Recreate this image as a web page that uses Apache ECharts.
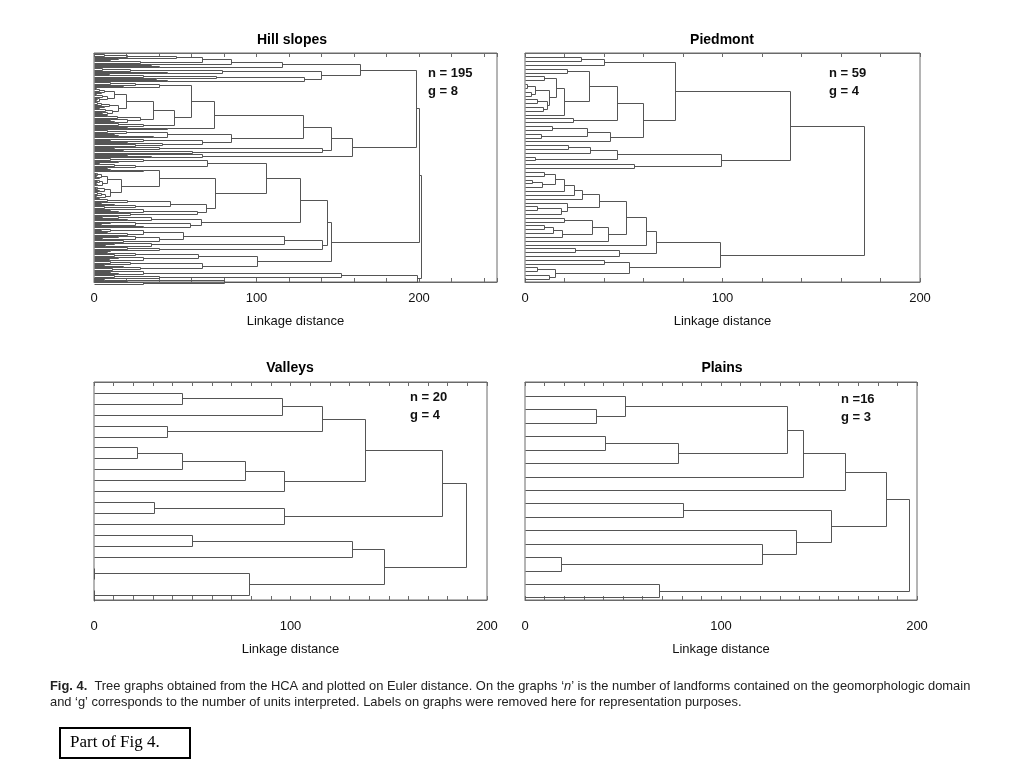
<!DOCTYPE html>
<html><head><meta charset="utf-8">
<script src="https://cdn.jsdelivr.net/npm/echarts/dist/echarts.min.js"></script>
<style>html,body{margin:0;padding:0;background:#fff}#c{width:1024px;height:768px}</style>
</head><body><div id="c"></div>
<script>
var panelTitles = ['Hill slopes', 'Piedmont', 'Valleys', 'Plains'];
var panelN = ['n = 195', 'n = 59', 'n = 20', 'n =16'];
var panelG = ['g = 8', 'g = 4', 'g = 4', 'g = 3'];
var axisMax = [248, 200, 200, 200];
var tickStep = [20, 20, 10, 10];
var tickLabels = [0, 100, 200];
var axisName = 'Linkage distance';
</script>
<script>
// Trees: node = [upperChild, lowerChild, linkageDistance]; 0 = a leaf (leaves in display order, top to bottom)
var valleysTree = [
  [
    [[[[0, 0, 44.6], 0, 95.8], [0, 0, 37.3], 116.2], [[[[0, 0, 21.7], 0, 44.6], 0, 76.8], 0, 96.9], 138.1],
    [[0, 0, 30.5], 0, 96.9],
    177.3
  ],
  [[[0, 0, 49.7], 0, 131.5], [[0, 0, 0], [0, 0, 0], 79.0], 147.4],
  189.3
];
var plainsTree = [
  [
    [[[[0, [0, 0, 36.0], 50.8], [[0, 0, 40.6], 0, 78.3], 133.7], 0, 141.6], 0, 163.3],
    [[0, 0, 80.7], [0, [0, [0, 0, 18.6], 121.0], 138.2], 156.0],
    184.3
  ],
  [0, 0, 68.5],
  196.0
];
</script>
<script>
var pdT1 = [[0, 0, 28.6], 0, 39.8];
var pdTC = [[[0, 0, 1], [0, 0, 3], 5], [[0, 0, 6], [0, 0, 9], 11], 12];
var pdX = [[0, 0, 21.5], [[[0, 0, 9.6], pdTC, 15.8], 0, 19.5], 32.2];
var pdI = [pdX, [0, 0, 24.2], 46.5];
var pdW = [[[0, 0, 13.5], [0, 0, 8], 31.3], 0, 43.2];
var pdC = [pdT1, [pdI, pdW, 59.7], 76.1];
var pdQ = [[[[0, 0, 22], 0, 33], [0, 0, 5], 46.5], [0, 0, 55], 99];
var piedmontUpper = [pdC, pdQ, 134.2];
var pdB185 = [[[[[0, 0, 9.5], [[0, 0, 3.4], 0, 8.6], 15], 0, 19.5], 0, 25], 0, 28.8];
var pdB238 = [pdB185, [0, [[0, 0, 6], 0, 18], 21.2], 37.7];
var pdB262 = [[[0, 0, 19.5], [[[0, 0, 9.5], 0, 14], 0, 18.6], 34], 0, 41.8];
var pdB408 = [[[pdB238, pdB262, 51.3], 0, 61.4], [[0, 0, 25.4], 0, 47.4], 66.5];
var pdS = [[0, 0, 40], [[0, 0, 6], [0, 0, 12], 15], 52.7];
var piedmontLower = [pdB408, pdS, 98.5];
var piedmontTree = [piedmontUpper, piedmontLower, 171.4];
</script>
<script>
var hillATop = [[[[[[0, 0, 6], 0, 20], [0, 0, 15], 50.6], [[0, 0, 10], 0, 28], 66.5], [0, 0, 35], 84], [0, 0, 40], 115.8];
var hillABot = [[[[0, 0, 5], 0, 22], [0, 0, 45], 78.8], [[[[0, 0, 9], 0, 30], [0, 0, 38], 75.3], [0, 0, 45], 129.2], 139.5];
var hillA = [hillATop, hillABot, 163.8];
var hillBCcore = [
  [[[[0, 0, 1], 0, 3], [0, 0, 4], 6], [[[0, 0, 1], 0, 5], [[0, 0, 2], [0, 0, 1], 3], 8], 12],
  [[[[0, 0, 2], 0, 4], [0, 0, 6], 9], [[[0, 0, 3], 0, 7], [[0, 0, 5], 0, 8], 11], 15],
  19.75
];
var hillBCupper = [
  [[[0, 0, 10], 0, 25], [0, 0, 18], 40],
  [[hillBCcore, [[[0, 0, 8], 0, 14], [[0, 0, 10], [0, 0, 12], 20], 28], 36.6], [[0, 0, 15], 0, 30], 49],
  59.9
];
var hillC1 = [[[[0, 0, 8], [0, 0, 12], 19.75], [[0, 0, 15], 0, 36.6], 45], [[[0, 0, 10], 0, 30], [[0, 0, 20], [0, 0, 25], 42], 66.5], 84];
var hillBC = [
  [[[hillBCupper, [[0, 0, 20], 0, 45], 73.7], hillC1, 128.8],
   [[[0, 0, 12], 0, 40], [[0, 0, 18], 0, 60], 140.5], 145.7],
  [[0, 0, 20], [0, 0, 35], 66.5],
  159
];
var hillTiny = [
  [[[[0, 0, 1], 0, 2], [[0, 0, 1], 0, 3], 4], [[[0, 0, 2], 0, 3], [[0, 0, 1], 0, 2], 5], 8],
  [[[[0, 0, 1], 0, 2], [0, 0, 3], 6], [[[0, 0, 2], 0, 4], [[0, 0, 1], 0, 3], 7], 10],
  16.5
];
var hillDTop = [[[0, 0, 10], [0, 0, 15], 30], [[[0, 0, 3], 0, 12], [0, 0, 8], 25], 69.5];
var hillDMidB = [[[[0, 0, 8], [0, 0, 4], 20], [[0, 0, 12], [0, 0, 6], 25], 46.5], [[[0, 0, 10], [0, 0, 15], 30], [0, 0, 22], 63.4], 69];
var hillDLow = [[[[0, 0, 5], 0, 15], [0, 0, 20], 35], [[[0, 0, 10], [0, 0, 4], 25], [0, 0, 30], 58.8], 66];
var hillD = [[hillDTop, [[[[0, 0, 10], 0, 30], hillTiny, 40], hillDMidB, 74.7], 105.6], hillDLow, 126.7];
var hillE = [
  [[[[[0, 0, 4], 0, 10], [[0, 0, 8], 0, 20], 30], [[[0, 0, 15], [0, 0, 5], 25], [0, 0, 18], 40], 55], [[0, 0, 12], [0, 0, 7], 35], 116.7],
  [[0, 0, 20], [0, 0, 10], 40],
  140.5
];
var hillF1 = [
  [[[0, 0, 8], [0, 0, 12], 25], [[0, 0, 15], [0, 0, 9], 30], 63.9],
  [[[0, 0, 10], [0, 0, 6], 22], [[0, 0, 18], [0, 0, 11], 28], 66.5],
  100
];
var hillF2 = [
  [[[0, 0, 10], [0, 0, 15], 30], [[0, 0, 12], 0, 40], 151.9],
  [[[0, 0, 6], 0, 20], [0, 0, 30], 80],
  199
];
var hillTree = [[[hillA, hillBC, 198], [[hillD, hillE, 143.6], hillF1, 146], 200], hillF2, 201.5];
</script>
<script>
var trees = [hillTree, piedmontTree, valleysTree, plainsTree];
var yRange = [[-1.2, 194.6], [-1.13, 58.8], [-0.98, 18.93], [-1.04, 15.19]];
var grids = [
  {left: 94, top: 53, width: 403, height: 229},
  {left: 525, top: 53, width: 395, height: 229},
  {left: 94, top: 382, width: 393, height: 218},
  {left: 525, top: 382, width: 392, height: 218}
];
var FONT = "'Liberation Sans', Arial, sans-serif";
var AX = '#6a6a6a';

function buildSegments(tree) {
  var leafIdx = 0;
  var segs = [];
  function walk(node) {
    if (node === 0) { var r = {pos: leafIdx, h: 0}; leafIdx += 1; return r; }
    var a = walk(node[0]);
    var b = walk(node[1]);
    segs.push([a.h, a.pos, node[2], b.pos, b.h]);
    return {pos: (a.pos + b.pos) / 2, h: node[2]};
  }
  walk(tree);
  return segs;
}

function fmtLabel(v) { return tickLabels.indexOf(v) >= 0 ? String(v) : ''; }

function renderSeg(params, api) {
  function c(x, y) {
    var p = api.coord([x, y]);
    return [Math.round(p[0]) + 0.5, Math.round(p[1]) + 0.5];
  }
  var ha = api.value(0), ya = api.value(1), h = api.value(2), yb = api.value(3), hb = api.value(4);
  return {type: 'polyline', shape: {points: [c(ha, ya), c(h, ya), c(h, yb), c(hb, yb)]},
    style: {fill: null, stroke: '#555555', lineWidth: 1}};
}

var chart = echarts.init(document.getElementById('c'), null, {renderer: 'canvas'});
var xAxes = [], yAxes = [], series = [], gridOpts = [];
var labelMargin = [10, 10, 20, 20];
var nameGap = [33, 33, 43, 43];
for (var i = 0; i < 4; i++) {
  var g = grids[i];
  gridOpts.push({show: true, borderColor: AX, borderWidth: 1, left: g.left, top: g.top, width: g.width, height: g.height});
  xAxes.push({
    gridIndex: i, type: 'value', position: 'bottom', min: 0, max: axisMax[i], interval: tickStep[i],
    axisLine: {show: true, onZero: false, lineStyle: {color: AX, width: 1}},
    axisTick: {show: true, inside: true, length: 4, lineStyle: {color: AX}},
    splitLine: {show: false},
    axisLabel: {show: true, margin: labelMargin[i], fontFamily: FONT, fontSize: 13, color: '#111', formatter: fmtLabel},
    name: axisName, nameLocation: 'middle', nameGap: nameGap[i],
    nameTextStyle: {fontFamily: FONT, fontSize: 13, color: '#111'}
  });
  xAxes.push({
    gridIndex: i, type: 'value', position: 'top', min: 0, max: axisMax[i], interval: tickStep[i],
    axisLine: {show: true, onZero: false, lineStyle: {color: AX}},
    axisTick: {show: true, inside: true, length: 4, lineStyle: {color: AX}},
    axisLabel: {show: false}, splitLine: {show: false}
  });
  yAxes.push({gridIndex: i, type: 'value', inverse: true, min: yRange[i][0], max: yRange[i][1], show: false});
  series.push({
    type: 'custom', xAxisIndex: 2 * i, yAxisIndex: i, silent: true, animation: false,
    data: buildSegments(trees[i]), renderItem: renderSeg
  });
}

var titlePos = [[292, 40], [722, 40], [290, 368], [722, 368]];
var notePos = [[428, 73], [829, 73], [410, 397], [841, 399]];
var graphics = [];
for (var k = 0; k < 4; k++) {
  graphics.push({type: 'text', x: titlePos[k][0], y: titlePos[k][1], style: {text: panelTitles[k], fontFamily: FONT, fontSize: 14, fontWeight: 'bold', fill: '#000', textAlign: 'center', textVerticalAlign: 'middle'}});
  graphics.push({type: 'text', x: notePos[k][0], y: notePos[k][1], style: {text: panelN[k], fontFamily: FONT, fontSize: 13, fontWeight: 'bold', fill: '#111', textAlign: 'left', textVerticalAlign: 'middle'}});
  graphics.push({type: 'text', x: notePos[k][0], y: notePos[k][1] + 18, style: {text: panelG[k], fontFamily: FONT, fontSize: 13, fontWeight: 'bold', fill: '#111', textAlign: 'left', textVerticalAlign: 'middle'}});
}
var CAP = 12.9;
var captionLine1 = "{b|Fig. 4.}  Tree graphs obtained from the HCA and plotted on Euler distance. On the graphs \u2018{i|n}\u2019 is the number of landforms contained on the geomorphologic domain";
var captionLine2 = "and \u2018g\u2019 corresponds to the number of units interpreted. Labels on graphs were removed here for representation purposes.";
var capRich = {b: {fontWeight: 'bold', fontFamily: FONT, fontSize: CAP, fill: '#222'}, i: {fontStyle: 'italic', fontFamily: FONT, fontSize: CAP, fill: '#222'}};
graphics.push({type: 'text', x: 50, y: 686, style: {text: captionLine1, rich: capRich, fontFamily: FONT, fontSize: CAP, fill: '#222', textVerticalAlign: 'middle'}});
graphics.push({type: 'text', x: 50, y: 702, style: {text: captionLine2, fontFamily: FONT, fontSize: CAP, fill: '#222', textVerticalAlign: 'middle'}});
graphics.push({type: 'rect', shape: {x: 60, y: 728, width: 130, height: 30}, style: {fill: '#fff', stroke: '#000', lineWidth: 2}});
graphics.push({type: 'text', x: 70, y: 743, style: {text: 'Part of Fig 4.', fontFamily: "'Liberation Serif', 'Times New Roman', serif", fontSize: 17, fill: '#000', textVerticalAlign: 'middle'}});

chart.setOption({
  animation: false,
  backgroundColor: '#fff',
  grid: gridOpts, xAxis: xAxes, yAxis: yAxes, series: series,
  graphic: {elements: graphics}
});
</script>
</body></html>
